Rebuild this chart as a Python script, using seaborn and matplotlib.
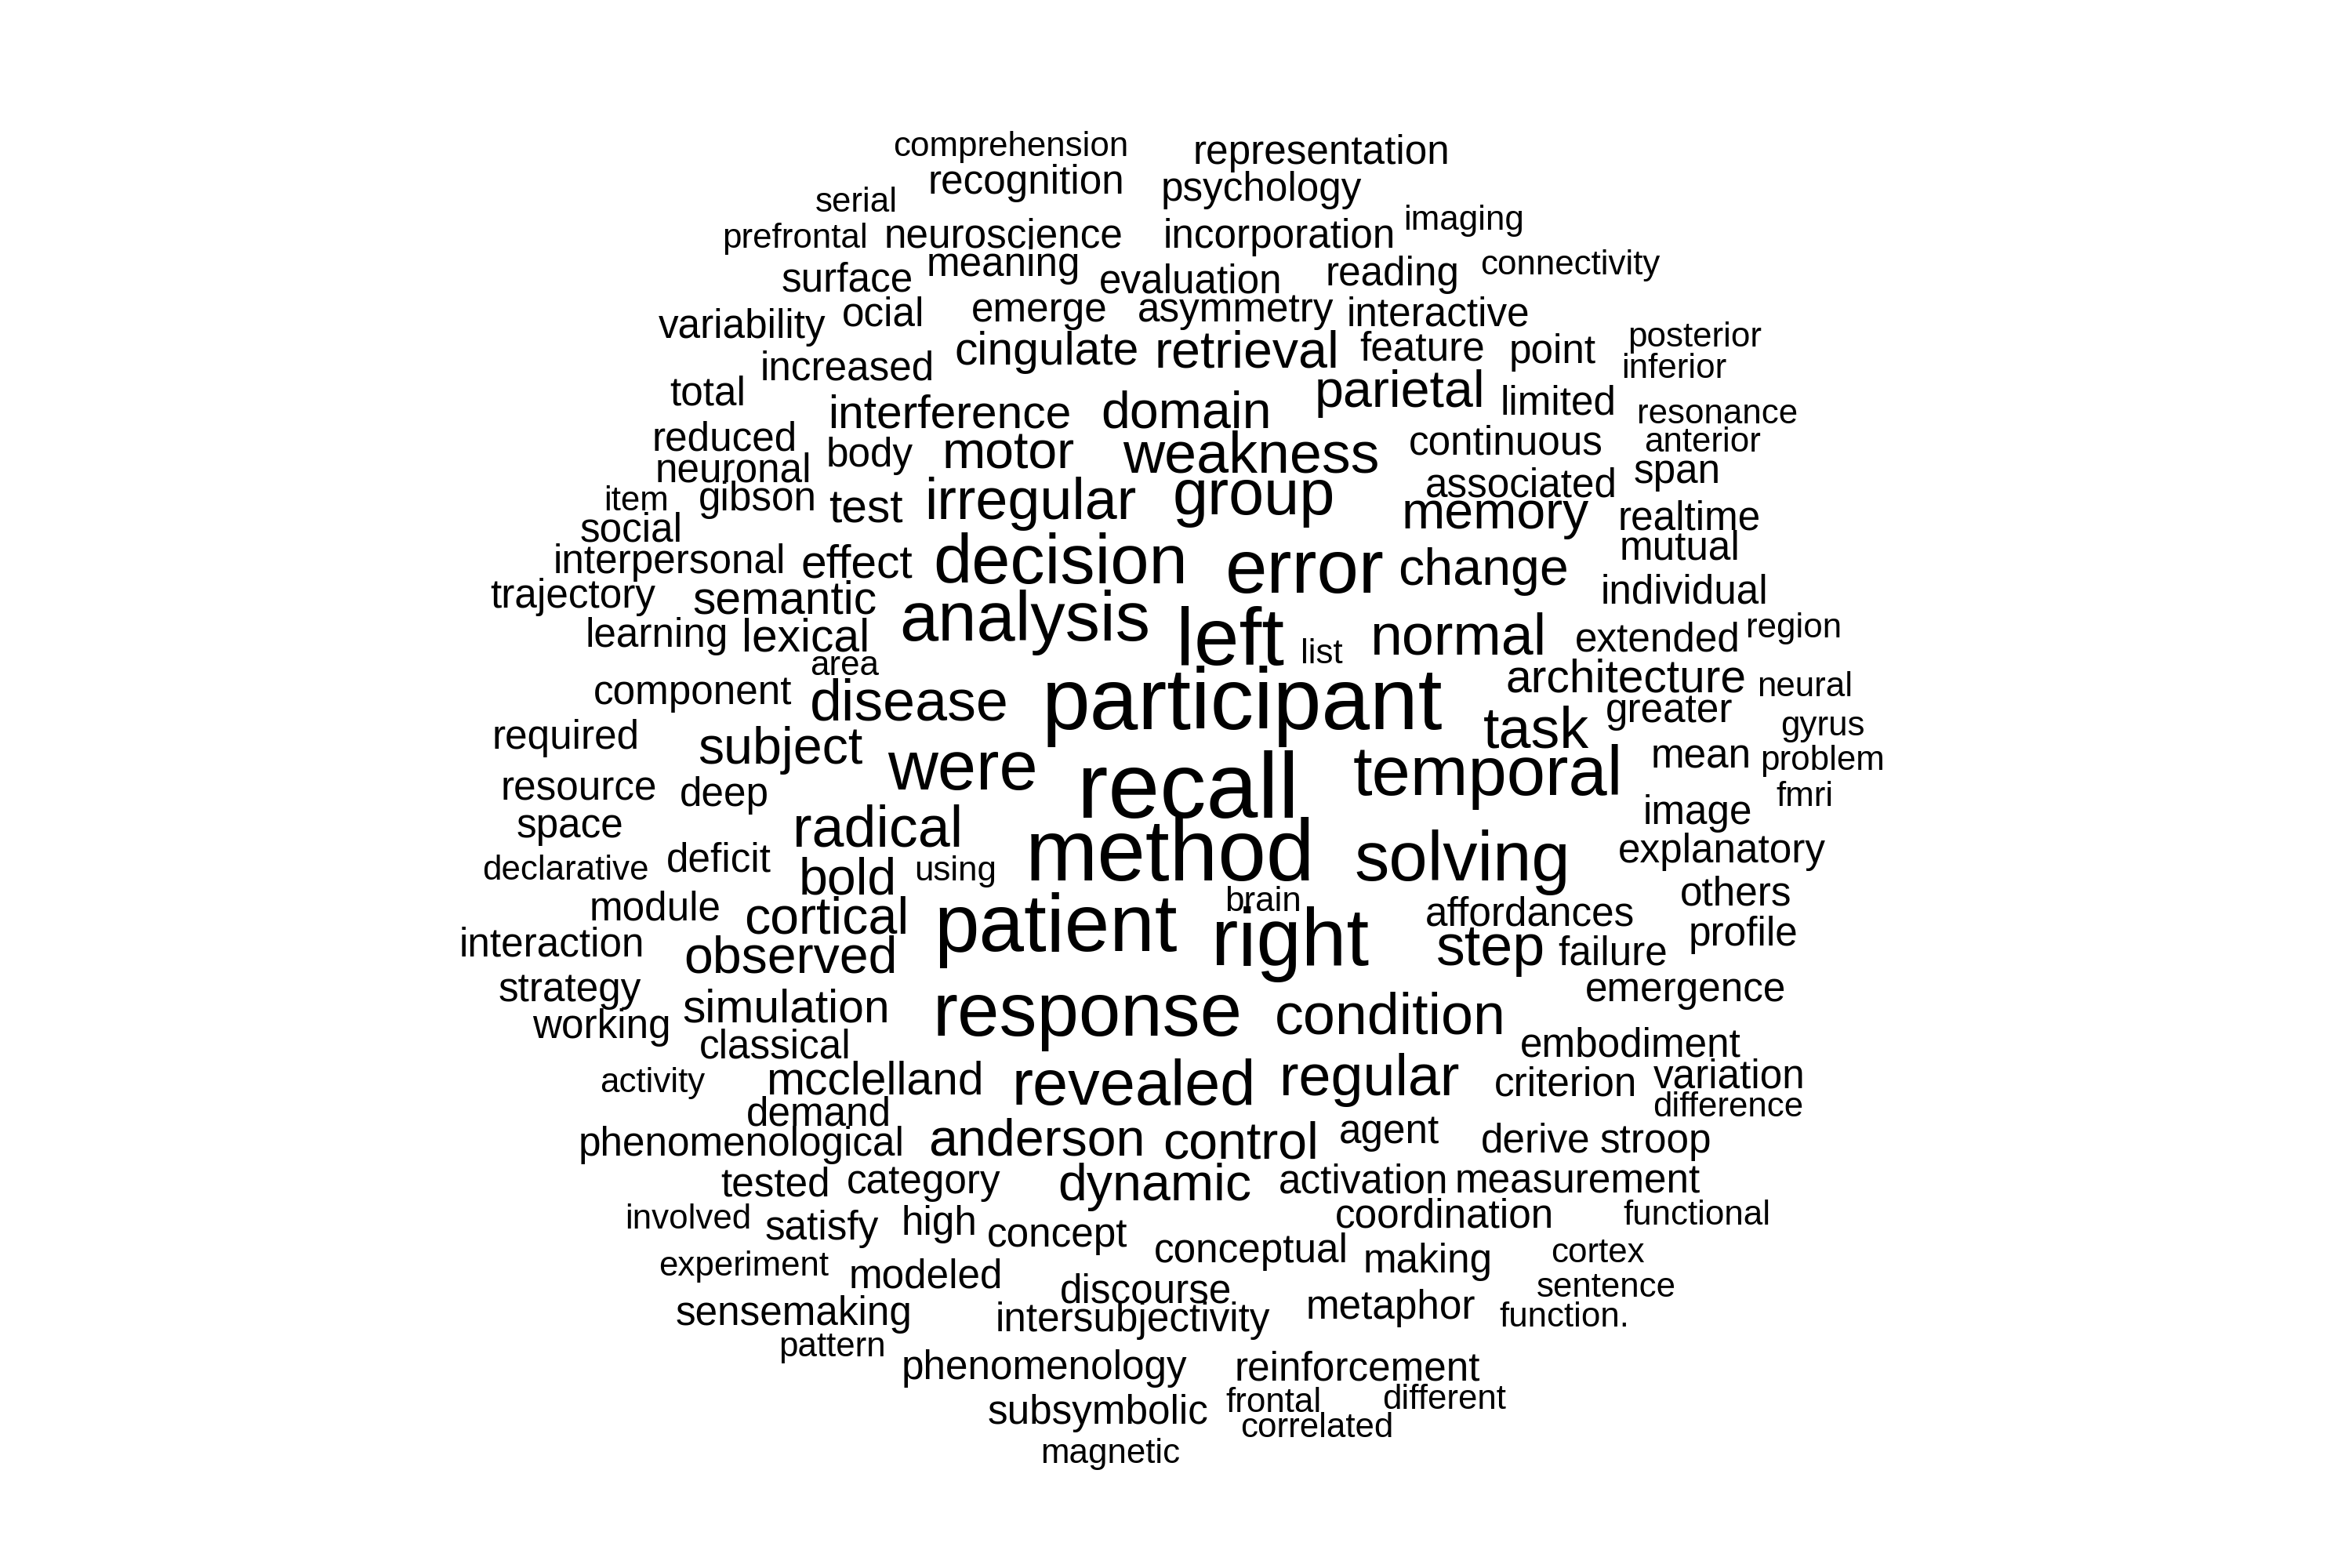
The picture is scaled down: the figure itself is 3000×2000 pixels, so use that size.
import matplotlib
matplotlib.use("Agg")
import matplotlib.pyplot as plt
import seaborn as sns

sns.set_theme(style="white")
plt.rcParams['font.family'] = ['Liberation Sans', 'DejaVu Sans']

# word cloud data: word, frequency level, layout position (centre x, baseline y) in cloud space
words = [
    "comprehension", "representation", "recognition", "psychology", "serial",
    "prefrontal", "neuroscience", "incorporation", "imaging", "surface",
    "meaning", "evaluation", "reading", "connectivity", "variability",
    "ocial", "emerge", "asymmetry", "interactive", "cingulate",
    "retrieval", "feature", "point", "posterior", "inferior",
    "increased", "total", "parietal", "limited", "resonance",
    "interference", "domain", "reduced", "body", "motor",
    "weakness", "continuous", "anterior", "neuronal", "associated",
    "span", "item", "gibson", "test", "irregular",
    "group", "memory", "realtime", "social", "mutual",
    "interpersonal", "effect", "decision", "error", "change",
    "individual", "trajectory", "semantic", "analysis", "left",
    "list", "normal", "extended", "region", "learning",
    "lexical", "area", "architecture", "component", "disease",
    "participant", "neural", "greater", "task", "gyrus",
    "required", "subject", "were", "recall", "temporal",
    "mean", "problem", "resource", "deep", "fmri",
    "image", "space", "radical", "declarative", "deficit",
    "bold", "using", "method", "solving", "explanatory",
    "module", "cortical", "brain", "affordances", "others",
    "interaction", "observed", "patient", "right", "step",
    "failure", "profile", "strategy", "simulation", "response",
    "condition", "emergence", "working", "classical", "embodiment",
    "activity", "mcclelland", "revealed", "regular", "criterion",
    "variation", "difference", "demand", "phenomenological", "anderson",
    "control", "agent", "derive", "stroop", "tested",
    "category", "dynamic", "activation", "measurement", "involved",
    "satisfy", "high", "concept", "coordination", "functional",
    "conceptual", "making", "cortex", "experiment", "modeled",
    "discourse", "sentence", "sensemaking", "intersubjectivity", "metaphor",
    "function.", "pattern", "phenomenology", "reinforcement", "subsymbolic",
    "frontal", "different", "correlated", "magnetic",
]

freq = [
    1, 2, 2, 2, 1,
    1, 2, 2, 1, 2,
    2, 2, 2, 1, 2,
    2, 2, 2, 2, 3,
    4, 2, 2, 1, 1,
    2, 2, 4, 2, 1,
    3, 4, 2, 2, 4,
    5, 2, 1, 2, 2,
    2, 1, 2, 3, 5,
    6, 4, 2, 2, 2,
    2, 3, 7, 8, 4,
    2, 2, 3, 7, 9,
    1, 5, 2, 1, 2,
    3, 1, 3, 2, 5,
    10, 1, 2, 5, 1,
    2, 4, 7, 11, 7,
    2, 1, 2, 2, 1,
    2, 2, 5, 1, 2,
    4, 1, 10, 7, 2,
    2, 4, 1, 2, 2,
    2, 4, 9, 9, 5,
    2, 2, 2, 3, 8,
    5, 2, 2, 2, 2,
    1, 3, 6, 5, 2,
    2, 1, 2, 2, 4,
    4, 2, 2, 2, 2,
    2, 4, 2, 2, 1,
    2, 2, 2, 2, 1,
    2, 2, 1, 1, 2,
    2, 1, 2, 2, 2,
    1, 1, 2, 2, 2,
    1, 1, 1, 1,
]

pos_x = [
    674, 881, 684, 841, 571,
    530, 669, 853, 976, 565,
    669, 794, 928, 1047, 495,
    589, 693, 824, 959, 698,
    831, 948, 1035, 1130, 1116,
    565, 472, 933, 1039, 1145,
    633, 791, 483, 580, 672,
    834, 1004, 1135, 489, 1014,
    1118, 424, 505, 577, 687,
    836, 997, 1126, 421, 1120,
    446, 571, 707, 870, 989,
    1123, 382, 523, 683, 820,
    881, 972, 1105, 1196, 438,
    537, 563, 1084, 462, 606,
    828, 1203, 1113, 1024, 1215,
    377, 520, 642, 792, 992,
    1134, 1215, 386, 483, 1203,
    1132, 380, 585, 377, 479,
    565, 637, 780, 975, 1148,
    437, 551, 842, 1020, 1157,
    368, 527, 704, 860, 994,
    1075, 1162, 380, 524, 725,
    927, 1124, 401, 517, 1087,
    435, 583, 756, 913, 1044,
    1153, 1152, 546, 494, 691,
    827, 926, 1024, 1104, 517,
    616, 770, 909, 1052, 459,
    548, 626, 705, 963, 1131,
    834, 952, 1065, 496, 617,
    764, 1071, 529, 755, 927,
    1043, 555, 696, 905, 732,
    849, 963, 878, 740,
]

pos_y = [
    104, 109, 129, 134, 141,
    165, 165, 165, 153, 194,
    184, 195, 190, 183, 225,
    217, 214, 214, 217, 243,
    245, 240, 242, 231, 252,
    253, 270, 271, 276, 282,
    285, 285, 300, 311, 312,
    315, 303, 301, 321, 331,
    322, 340, 340, 348, 346,
    343, 352, 353, 361, 373,
    382, 385, 389, 395, 390,
    402, 405, 409, 427, 443,
    442, 436, 434, 425, 431,
    434, 450, 461, 469, 480,
    486, 464, 481, 498, 490,
    499, 509, 526, 545, 530,
    512, 513, 533, 537, 537,
    549, 558, 564, 586, 581,
    596, 587, 587, 587, 575,
    613, 622, 607, 617, 603,
    637, 648, 634, 643, 643,
    643, 630, 667, 681, 690,
    689, 667, 692, 705, 704,
    728, 729, 736, 730, 730,
    725, 744, 750, 770, 770,
    772, 762, 768, 768, 797,
    795, 800, 795, 795, 819,
    826, 823, 831, 818, 816,
    841, 848, 841, 850, 858,
    868, 864, 883, 887, 879,
    884, 904, 919, 920, 949,
    941, 939, 958, 975,
]

# frequency level -> font size (points), linear scale like wordcloud(scale=...)
min_size, max_size = 15.8, 42.6
lo, hi = min(freq), max(freq)
sizes = [min_size + (f - lo) / (hi - lo) * (max_size - min_size) for f in freq]

fig = plt.figure(figsize=(15, 10), dpi=200)
ax = fig.add_axes([0, 0, 1, 1])
ax.set_xlim(0, 1568)
ax.set_ylim(1045, 0)
ax.axis('off')

for w, x, y, s in zip(words, pos_x, pos_y, sizes):
    ax.text(x, y, w, fontsize=s, color='black', ha='center', va='baseline')

fig.savefig("out.png", dpi=200, facecolor='white')
